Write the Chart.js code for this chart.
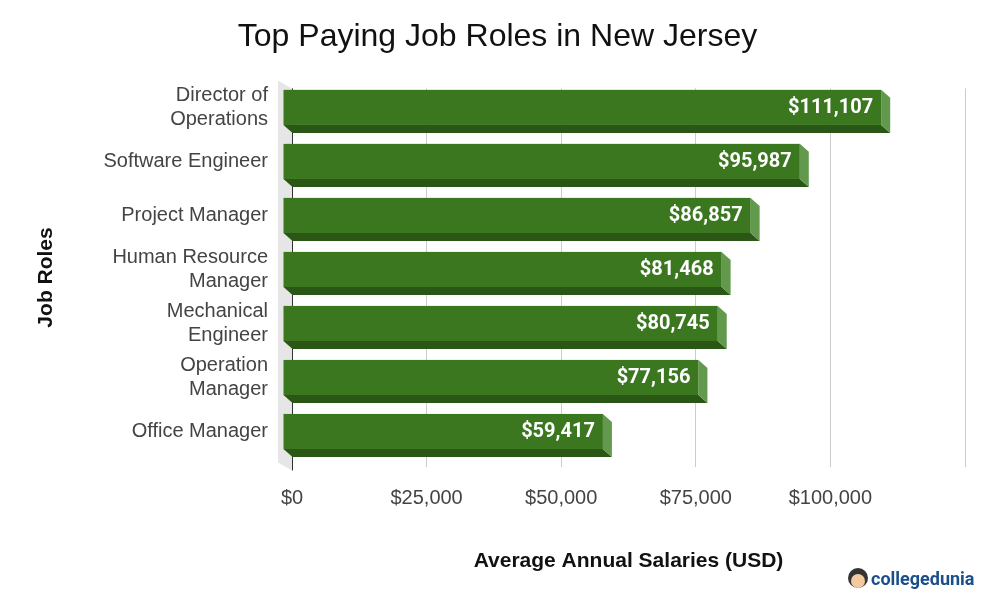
<!DOCTYPE html>
<html><head><meta charset="utf-8">
<script src="https://cdn.jsdelivr.net/npm/chart.js@4.4.0/dist/chart.umd.min.js"></script>
<style>html,body{margin:0;padding:0;background:#fff}#w{width:1000px;height:606px}</style>
</head><body><div id="w"><canvas id="c"></canvas></div>
<script>
const categories = [["Director of","Operations"],"Software Engineer","Project Manager",["Human Resource","Manager"],["Mechanical","Engineer"],["Operation","Manager"],"Office Manager"];
const salaries = [111107, 95987, 86857, 81468, 80745, 77156, 59417];
const xTickValues = [0, 25000, 50000, 75000, 100000];

const DX = 9, DY = 8;
const bars3d = {
  id: 'bars3d',
  beforeDatasetsDraw(chart) {
    const ctx = chart.ctx, a = chart.chartArea, x0 = chart.scales.x.getPixelForValue(0);
    ctx.save();
    ctx.fillStyle = '#e6e6e6';
    ctx.beginPath();
    ctx.moveTo(x0 - 14, a.top - 8); ctx.lineTo(x0, a.top); ctx.lineTo(x0, a.bottom + 4); ctx.lineTo(x0 - 14, a.bottom - 4);
    ctx.closePath(); ctx.fill();
    ctx.strokeStyle = '#333'; ctx.lineWidth = 1;
    ctx.beginPath(); ctx.moveTo(x0 + 0.5, a.top); ctx.lineTo(x0 + 0.5, a.bottom + 4); ctx.stroke();
    ctx.restore();
  },
  afterDatasetsDraw(chart) {
    const ctx = chart.ctx, meta = chart.getDatasetMeta(0);
    ctx.save();
    meta.data.forEach((el, i) => {
      const p = el.getProps(['x', 'y', 'base', 'height'], true);
      const top = p.y - p.height / 2, bot = p.y + p.height / 2;
      const l = p.base - DX, r = p.x - DX, ft = top - DY, fb = bot - DY;
      ctx.fillStyle = '#2a5716';
      ctx.beginPath(); ctx.moveTo(l, fb); ctx.lineTo(r, fb); ctx.lineTo(p.x, bot); ctx.lineTo(p.base, bot); ctx.closePath(); ctx.fill();
      ctx.fillStyle = '#62994c';
      ctx.beginPath(); ctx.moveTo(r, ft); ctx.lineTo(p.x, top); ctx.lineTo(p.x, bot); ctx.lineTo(r, fb); ctx.closePath(); ctx.fill();
      ctx.fillStyle = '#3a771f';
      ctx.fillRect(l, ft, r - l, fb - ft);
      ctx.fillStyle = '#fff'; ctx.font = 'bold 20px Roboto'; ctx.textAlign = 'right'; ctx.textBaseline = 'middle';
      ctx.fillText('$' + salaries[i].toLocaleString('en-US'), r - 8, (ft + fb) / 2 + 1);
    });
    ctx.fillStyle = '#333'; ctx.beginPath(); ctx.arc(858, 578, 10, 0, Math.PI * 2); ctx.fill();
    ctx.fillStyle = '#f3c9a0'; ctx.beginPath(); ctx.arc(858, 581, 7, 0, Math.PI * 2); ctx.fill();
    ctx.fillStyle = '#1a4f8b'; ctx.font = 'bold 18px Roboto'; ctx.textAlign = 'left'; ctx.textBaseline = 'middle';
    ctx.fillText('collegedunia', 871, 580);
    ctx.restore();
  }
};

const F = 'Liberation Sans, Arial, sans-serif';
new Chart(document.getElementById('c'), {
  type: 'bar',
  data: { labels: categories, datasets: [{ data: salaries, backgroundColor: 'rgba(0,0,0,0)', barPercentage: 0.65, categoryPercentage: 1 }] },
  options: {
    indexAxis: 'y', responsive: true, maintainAspectRatio: false, animation: false,
    layout: { padding: { top: 0, right: 35, bottom: 28, left: 30 } },
    plugins: {
      legend: { display: false }, tooltip: { enabled: false },
      title: { display: true, text: 'Top Paying Job Roles in New Jersey', color: '#111', font: { family: F, size: 32, weight: 'normal' }, padding: { top: 18, bottom: 32 } }
    },
    scales: {
      x: {
        min: 0, max: 125000,
        afterBuildTicks: s => { s.ticks = [...xTickValues, 125000].map(v => ({ value: v })); },
        ticks: { callback: v => v === 125000 ? '' : '$' + v.toLocaleString('en-US'), color: '#444', font: { family: F, size: 20 }, padding: 20, maxRotation: 0 },
        grid: { color: c => c.tick && c.tick.value === 0 ? 'rgba(0,0,0,0)' : '#cccccc', drawTicks: false },
        border: { display: false },
        title: { display: true, text: 'Average Annual Salaries (USD)', color: '#111', font: { family: F, size: 21, weight: 'bold' }, padding: { top: 4 } },
        afterFit: s => { s.height = 111.5; }
      },
      y: {
        ticks: { color: '#444', font: { family: F, size: 20 }, padding: 16, labelOffset: -8, autoSkip: false },
        grid: { display: false }, border: { display: false },
        title: { display: true, text: 'Job Roles', color: '#111', font: { family: F, size: 21, weight: 'bold' }, padding: { bottom: 6 } },
        afterFit: s => { s.width = 262; }
      }
    }
  },
  plugins: [bars3d]
});
</script></body></html>
